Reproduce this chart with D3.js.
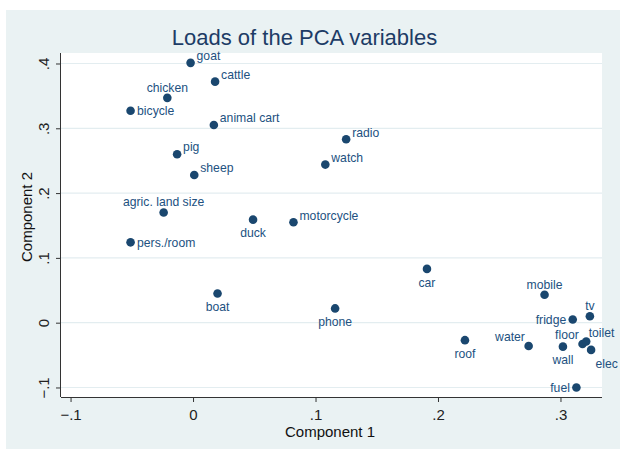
<!DOCTYPE html>
<html>
<head>
<meta charset="utf-8">
<script src="https://cdn.jsdelivr.net/npm/d3@7"></script>
<style>
  body { margin: 0; background: #fff; }
  svg text { font-family: "Liberation Sans", Arial, sans-serif; }
</style>
</head>
<body>
<div id="chart"></div>
<script>
// variable names, loadings on component 1 and 2, label position (clock)
var names = ["goat", "cattle", "chicken", "bicycle", "animal cart", "pig", "sheep",
    "agric. land size", "pers./room", "duck", "motorcycle", "boat", "radio", "watch",
    "car", "phone", "mobile", "tv", "fridge", "roof", "water", "wall", "floor",
    "toilet", "elec", "fuel"]
var comp1 = [-0.002, 0.018, -0.021, -0.051, 0.017, -0.013, 0.001,
    -0.024, -0.051, 0.049, 0.082, 0.020, 0.125, 0.108,
    0.191, 0.116, 0.287, 0.324, 0.310, 0.222, 0.274, 0.302, 0.318,
    0.321, 0.325, 0.313]
var comp2 = [0.401, 0.372, 0.347, 0.327, 0.305, 0.260, 0.228,
    0.170, 0.124, 0.159, 0.155, 0.045, 0.283, 0.244,
    0.083, 0.022, 0.043, 0.010, 0.005, -0.027, -0.036, -0.037, -0.033,
    -0.029, -0.042, -0.100]
var labelPos = [2, 2, 12, 3, 2, 2, 2,
    12, 3, 6, 2, 6, 2, 2,
    6, 6, 12, 12, 9, 6, 11, 6, 11,
    1, 5, 9]
var xTicks = [-0.1, 0, 0.1, 0.2, 0.3]
var yTicks = [-0.1, 0, 0.1, 0.2, 0.3, 0.4]

var width = 620, height = 452
var plot = { left: 61, right: 602, top: 53, bottom: 397 }
var navy = "#1a476f"

var svg = d3.select("#chart").append("svg")
    .attr("width", width)
    .attr("height", height)

svg.append("rect")
    .attr("x", 6).attr("y", 10)
    .attr("width", width - 6).attr("height", 439)
    .attr("fill", "#eaf2f3")

svg.append("rect")
    .attr("x", plot.left).attr("y", plot.top)
    .attr("width", plot.right - plot.left).attr("height", plot.bottom - plot.top)
    .attr("fill", "#fff")

var x = d3.scaleLinear().domain([-0.1078, 0.3339]).range([plot.left, plot.right])
var y = d3.scaleLinear().domain([-0.1147, 0.4162]).range([plot.bottom, plot.top])

// stata style numbers: .4, -.1, 0
function fmt(v) {
    if (Math.abs(v) < 1e-9) return "0"
    return d3.format(".1f")(v).replace("0.", ".")
}

// gridlines
svg.append("g").selectAll("line")
    .data(yTicks)
    .enter().append("line")
    .attr("x1", plot.left).attr("x2", plot.right)
    .attr("y1", function (d) { return y(d) }).attr("y2", function (d) { return y(d) })
    .attr("stroke", "#e3edf0")
    .attr("stroke-width", 1.2)

var xAxis = svg.append("g")
    .attr("transform", "translate(0," + plot.bottom + ")")
    .call(d3.axisBottom(x).tickValues(xTicks).tickFormat(fmt).tickSizeOuter(0).tickSize(5).tickPadding(7))
var yAxis = svg.append("g")
    .attr("transform", "translate(" + plot.left + ",0)")
    .call(d3.axisLeft(y).tickValues(yTicks).tickFormat(fmt).tickSizeOuter(0).tickSize(5).tickPadding(7))

;[xAxis, yAxis].forEach(function (g) {
    g.select(".domain").attr("stroke", "#333")
    g.selectAll(".tick line").attr("stroke", "#333")
    g.selectAll(".tick text")
        .attr("fill", "#222")
        .style("font-size", "15px")
        .style("font-family", "'Liberation Sans', Arial, sans-serif")
})
// extend axis lines over the whole plot region
xAxis.select(".domain").attr("d", "M" + plot.left + ",0.5H" + plot.right)
yAxis.select(".domain").attr("d", "M-0.5," + plot.top + "V" + plot.bottom)

// rotate y tick labels like stata
yAxis.selectAll(".tick text")
    .attr("x", null).attr("dy", null)
    .attr("text-anchor", "middle")
    .attr("transform", "translate(-12,0) rotate(-90)")

// titles
svg.append("text")
    .attr("x", 304.5).attr("y", 44.5)
    .attr("text-anchor", "middle")
    .attr("fill", "#1d3c66")
    .style("font-size", "22px")
    .text("Loads of the PCA variables")

svg.append("text")
    .attr("x", 330).attr("y", 437)
    .attr("text-anchor", "middle")
    .attr("fill", "#111")
    .style("font-size", "15px")
    .text("Component 1")

svg.append("text")
    .attr("transform", "translate(32,217) rotate(-90)")
    .attr("text-anchor", "middle")
    .attr("fill", "#111")
    .style("font-size", "15px")
    .text("Component 2")

// label offsets per clock position: dx, dy (to text centre), anchor
var offsets = {
    1: [2.5, -8.5, "start"],
    2: [6, -7, "start"],
    3: [6.5, 0, "start"],
    5: [4.5, 13.5, "start"],
    6: [0, 13.5, "middle"],
    9: [-6.5, 0, "end"],
    11: [-3.7, -9.2, "end"],
    12: [0, -10.5, "middle"]
}

var pts = names.map(function (n, i) {
    return { name: n, c1: comp1[i], c2: comp2[i], pos: labelPos[i] }
})

svg.append("g").selectAll("circle")
    .data(pts)
    .enter().append("circle")
    .attr("cx", function (d) { return x(d.c1) })
    .attr("cy", function (d) { return y(d.c2) })
    .attr("r", 4.3)
    .attr("fill", navy)

svg.append("g").selectAll("text")
    .data(pts)
    .enter().append("text")
    .attr("x", function (d) { return x(d.c1) + offsets[d.pos][0] })
    .attr("y", function (d) { return y(d.c2) + offsets[d.pos][1] })
    .attr("dy", "0.35em")
    .attr("text-anchor", function (d) { return offsets[d.pos][2] })
    .attr("fill", "#22517f")
    .style("font-size", "12.2px")
    .text(function (d) { return d.name })
</script>
</body>
</html>
